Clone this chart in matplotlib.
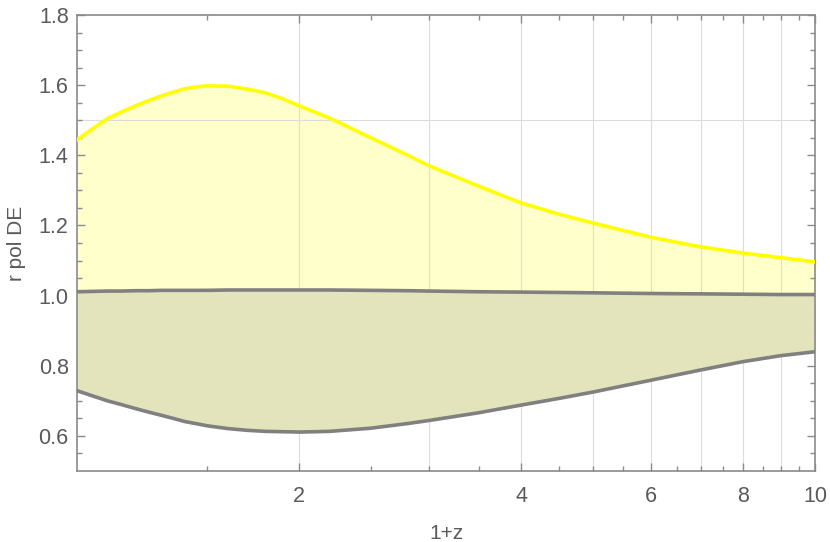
import numpy as np
import matplotlib
matplotlib.use('Agg')
import matplotlib.pyplot as plt
from matplotlib.ticker import FixedLocator, NullFormatter

# values
one_plus_z = [1.0, 1.05, 1.1, 1.15, 1.2, 1.25, 1.3, 1.35, 1.4, 1.45, 1.5, 1.6, 1.7, 1.8, 1.9, 2.0,
              2.2, 2.5, 2.8, 3.0, 3.5, 4.0, 4.5, 5.0, 6.0, 7.0, 8.0, 9.0, 10.0]
r_upper = [1.444, 1.476, 1.505, 1.524, 1.541, 1.556, 1.569, 1.580, 1.590, 1.595, 1.598, 1.597, 1.589,
           1.578, 1.561, 1.541, 1.506, 1.450, 1.401, 1.370, 1.312, 1.264, 1.232, 1.207, 1.166,
           1.139, 1.121, 1.108, 1.096]
r_mid = [1.011, 1.012, 1.013, 1.013, 1.014, 1.014, 1.015, 1.015, 1.015, 1.015, 1.015, 1.016, 1.016,
         1.016, 1.016, 1.016, 1.016, 1.015, 1.014, 1.013, 1.011, 1.010, 1.009, 1.008, 1.006,
         1.005, 1.004, 1.003, 1.003]
r_lower = [0.729, 0.714, 0.700, 0.689, 0.678, 0.668, 0.659, 0.650, 0.641, 0.635, 0.629, 0.621, 0.616,
           0.613, 0.612, 0.611, 0.613, 0.622, 0.635, 0.644, 0.666, 0.688, 0.707, 0.725, 0.759,
           0.788, 0.812, 0.829, 0.840]

x_labels = [2, 4, 6, 8, 10]
y_labels = [0.6, 0.8, 1.0, 1.2, 1.4, 1.6, 1.8]

plt.rcParams['font.family'] = ['Liberation Sans', 'DejaVu Sans']
txt = '#5a5a5a'
axc = '#8a8a8a'

fig = plt.figure(figsize=(8.3, 5.42), dpi=100)
ax = fig.add_axes([77 / 830, 1 - 471 / 542, 738 / 830, 456 / 542])
ax.set_xscale('log')

# fills
ax.fill_between(one_plus_z, r_lower, r_upper, color='#ffffcc', lw=0, zorder=1)
ax.fill_between(one_plus_z, r_lower, r_mid, color='#e3e4bb', lw=0, zorder=2)

# grid
for g in range(2, 10):
    ax.axvline(g, color='#dcdcdc', lw=0.8, zorder=1.5)
ax.axhline(1.5, color='#dcdcdc', lw=0.8, zorder=1.5)

ax.plot(one_plus_z, r_upper, color='#ffff00', lw=2.6, zorder=4, solid_joinstyle='round')
ax.plot(one_plus_z, r_mid, color='#808080', lw=2.6, zorder=4, solid_joinstyle='round')
ax.plot(one_plus_z, r_lower, color='#808080', lw=2.6, zorder=4, solid_joinstyle='round')

ax.set_xlim(1, 10)
ax.set_ylim(0.5, 1.8)

ax.xaxis.set_major_locator(FixedLocator(x_labels))
ax.set_xticklabels([str(v) for v in x_labels])
ax.xaxis.set_minor_locator(FixedLocator([1.5, 2.5, 3, 3.5, 4.5, 5, 5.5, 6.5, 7, 7.5, 8.5, 9, 9.5]))
ax.xaxis.set_minor_formatter(NullFormatter())
ax.yaxis.set_major_locator(FixedLocator(y_labels))
ax.set_yticklabels(['%.1f' % v for v in y_labels])
ax.yaxis.set_minor_locator(FixedLocator(np.arange(0.55, 1.8, 0.05)))

ax.tick_params(which='both', direction='in', top=True, right=True, colors=axc,
               labelcolor=txt, labelsize=15.5, width=1)
ax.tick_params(which='major', length=6)
ax.tick_params(which='minor', length=3.5)
ax.tick_params(axis='x', pad=11)
ax.tick_params(axis='y', pad=6)
for s in ax.spines.values():
    s.set_color(axc)
    s.set_linewidth(1.2)

ax.set_xlabel('1+z', color=txt, fontsize=15, labelpad=12)
ax.set_ylabel('r pol DE', color=txt, fontsize=15, labelpad=9)

fig.savefig('out.png', dpi=100)
